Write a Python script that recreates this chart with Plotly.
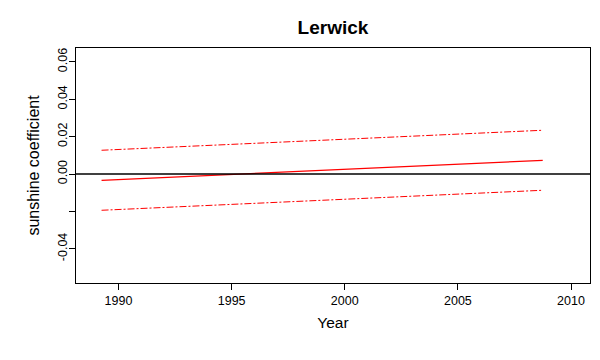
import plotly.graph_objects as go

# coefficient trend for Lerwick
years = [1989.25, 2008.75]
coef = [-0.0034, 0.0073]
upper = [0.0127, 0.0234]
lower = [-0.0194, -0.0087]

ytick_vals = [-0.04, -0.02, 0.0, 0.02, 0.04, 0.06]
ytick_text = ["-0.04", "", "0.00", "0.02", "0.04", "0.06"]
xtick_vals = [1990, 1995, 2000, 2005, 2010]

fig = go.Figure()
fig.add_trace(go.Scatter(x=years, y=upper, mode="lines",
                         line=dict(color="red", width=1, dash="7px,2px,2px,2px")))
fig.add_trace(go.Scatter(x=years, y=lower, mode="lines",
                         line=dict(color="red", width=1, dash="7px,2px,2px,2px")))
fig.add_trace(go.Scatter(x=years, y=coef, mode="lines",
                         line=dict(color="red", width=1.3)))
fig.add_hline(y=0, line_color="black", line_width=1.3)

axis_font = dict(family="Liberation Sans, Arial", size=12.5, color="black")

fig.update_layout(
    width=600, height=360,
    margin=dict(l=76, r=10, t=48, b=77),
    paper_bgcolor="white", plot_bgcolor="white",
    showlegend=False,
    font=dict(family="Liberation Sans, Arial", color="black"),
    title=dict(text="<b>Lerwick</b>", x=0.555, xanchor="center",
               y=0.925, yanchor="middle", yref="container",
               font=dict(size=19, family="Liberation Sans, Arial", color="black")),
    xaxis=dict(range=[1988.12, 2010.84], tickvals=xtick_vals, automargin=False,
               ticks="outside", ticklen=6, tickcolor="black",
               showline=True, mirror=True, linecolor="black", linewidth=1,
               showgrid=False, zeroline=False, tickfont=axis_font,
               title=dict(text="Year", font=dict(size=15.5), standoff=10)),
    yaxis=dict(range=[-0.0583, 0.0674], tickvals=ytick_vals, ticktext=ytick_text,
               tickangle=-90, automargin=False, ticklabelstandoff=-3,
               ticks="outside", ticklen=6, tickcolor="black",
               showline=True, mirror=True, linecolor="black", linewidth=1,
               showgrid=False, zeroline=False, tickfont=axis_font,
               title=dict(text="sunshine coefficient", font=dict(size=16), standoff=12)),
)

# the page body has a default margin; drop it so the figure sits at 0,0
fig.write_html("out.html", config={"displayModeBar": False},
               post_script="document.body.style.margin='0';")
